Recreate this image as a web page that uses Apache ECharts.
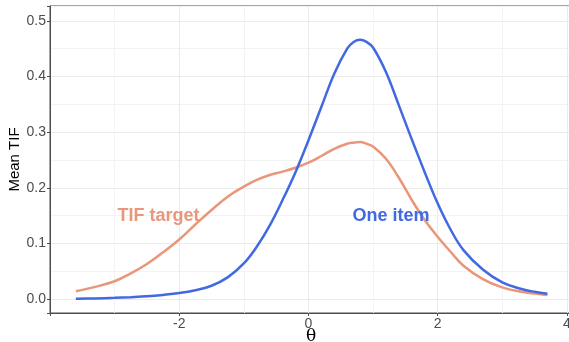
<!DOCTYPE html>
<html>
<head>
<meta charset="utf-8">
<script src="https://cdn.jsdelivr.net/npm/echarts@6/dist/echarts.min.js"></script>
<style>
  html, body { margin: 0; padding: 0; background: #fff; }
  #chart { width: 569px; height: 342px; }
</style>
</head>
<body>
<div id="chart"></div>
<script>
// theta grid shared by both curves
var theta = [-3.6, -3.3, -3.0, -2.75, -2.5, -2.25, -2.0, -1.75, -1.5, -1.25, -1.0, -0.8, -0.6, -0.4, -0.2, 0.0, 0.2, 0.4, 0.6, 0.7, 0.8, 0.9, 1.0, 1.2, 1.4, 1.6, 1.8, 2.0, 2.2, 2.4, 2.7, 3.0, 3.3, 3.5, 3.7];
// one item information
var oneItem = [0.0005, 0.0012, 0.0023, 0.0035, 0.005, 0.0075, 0.0108, 0.016, 0.024, 0.039, 0.064, 0.094, 0.132, 0.178, 0.228, 0.285, 0.345, 0.405, 0.450, 0.462, 0.466, 0.462, 0.452, 0.408, 0.348, 0.287, 0.228, 0.172, 0.125, 0.088, 0.053, 0.030, 0.018, 0.013, 0.0095];
// target TIF
var tifTarget = [0.014, 0.022, 0.032, 0.046, 0.063, 0.084, 0.107, 0.134, 0.160, 0.184, 0.202, 0.214, 0.223, 0.229, 0.236, 0.245, 0.257, 0.270, 0.279, 0.281, 0.282, 0.279, 0.274, 0.252, 0.218, 0.178, 0.142, 0.112, 0.085, 0.060, 0.036, 0.021, 0.013, 0.0098, 0.0075];

// curve labels
var labelText = ['TIF target', 'One item'];
var labelTheta = [-2.32, 1.28];
var labelVal = [0.149, 0.149];

var blue = '#4169E1';
var salmon = '#E9967A';
var gridCol = '#ebebeb';
var minorCol = '#f3f3f3';

var chart = echarts.init(document.getElementById('chart'));

function pairs(ys) {
  return theta.map(function (t, i) { return [t, ys[i]]; });
}

var xMin = -4, xMax = 4.08;
var yMin = -0.025, yMax = 0.5265;

var option = {
  animation: false,
  grid: {
    left: 50, right: -3, top: 6, bottom: 29,
    outerBoundsMode: 'none',
    containLabel: false,
    show: true,
    borderColor: '#4d4d4d',
    borderWidth: 1
  },
  xAxis: [{
    type: 'value',
    min: xMin,
    max: xMax,
    interval: 2,
    name: 'θ',
    nameLocation: 'middle',
    nameGap: 15,
    nameMoveOverlap: false,
    nameTextStyle: { fontFamily: 'DejaVu Serif', fontSize: 17, color: '#000' },
    axisLine: { onZero: false, lineStyle: { color: '#4d4d4d', width: 1 } },
    axisTick: { length: 3, lineStyle: { color: '#4d4d4d' } },
    axisLabel: {
      margin: 4,
      color: '#4d4d4d',
      fontFamily: 'Liberation Sans',
      fontSize: 14,
      showMaxLabel: false,
      formatter: function (v) { return v === -4 ? '' : String(v); }
    },
    splitLine: { lineStyle: { color: gridCol, width: 1 } }
  }, {
    // shifted copy, only for the minor grid at odd theta
    type: 'value',
    min: xMin + 1,
    max: xMax + 1,
    minInterval: 2,
    maxInterval: 2,
    axisLine: { show: false },
    axisTick: { show: false },
    axisLabel: { show: false },
    splitLine: { show: true, lineStyle: { color: minorCol, width: 1 } }
  }],
  yAxis: [{
    type: 'value',
    min: yMin,
    max: yMax,
    minInterval: 0.1,
    maxInterval: 0.1,
    name: 'Mean TIF',
    nameLocation: 'middle',
    nameGap: 28,
    nameMoveOverlap: false,
    nameTextStyle: { fontFamily: 'Liberation Sans', fontSize: 15, color: '#000' },
    axisLine: { show: true, onZero: false, lineStyle: { color: '#4d4d4d', width: 1 } },
    axisTick: { show: true, length: 3, lineStyle: { color: '#4d4d4d' } },
    axisLabel: {
      margin: 4,
      color: '#4d4d4d',
      fontFamily: 'Liberation Sans',
      fontSize: 14,
      formatter: function (v) {
        var k = v * 10;
        return Math.abs(k - Math.round(k)) < 1e-6 ? v.toFixed(1) : '';
      }
    },
    splitLine: { lineStyle: { color: gridCol, width: 1 } }
  }, {
    // shifted copy, only for the minor grid at 0.05, 0.15, ...
    type: 'value',
    min: yMin + 0.05,
    max: yMax + 0.05,
    minInterval: 0.1,
    maxInterval: 0.1,
    axisLine: { show: false },
    axisTick: { show: false },
    axisLabel: { show: false },
    splitLine: { show: true, lineStyle: { color: minorCol, width: 1 } }
  }],
  series: [
    {
      name: 'TIF target',
      type: 'line',
      smooth: 0.4,
      showSymbol: false,
      z: 3,
      lineStyle: { color: salmon, width: 2.5 },
      itemStyle: { color: salmon },
      data: pairs(tifTarget)
    },
    {
      name: 'One item',
      type: 'line',
      smooth: 0.4,
      showSymbol: false,
      z: 4,
      lineStyle: { color: blue, width: 2.5 },
      itemStyle: { color: blue },
      data: pairs(oneItem)
    },
    {
      type: 'scatter',
      symbolSize: 0,
      z: 5,
      silent: true,
      itemStyle: { opacity: 1 },
      data: labelText.map(function (t, i) {
        return {
          value: [labelTheta[i], labelVal[i]],
          itemStyle: { opacity: 1, color: i === 0 ? salmon : blue },
          label: {
            show: true,
            position: 'inside',
            formatter: t,
            fontFamily: 'Liberation Sans',
            fontWeight: 'bold',
            fontSize: 18,
            color: i === 0 ? salmon : blue
          }
        };
      })
    }
  ]
};

chart.setOption(option);
</script>
</body>
</html>
